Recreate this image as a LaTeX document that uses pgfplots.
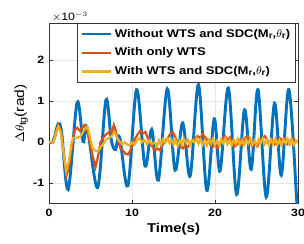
\documentclass[border=0pt]{standalone}
\usepackage{pgfplots}
\pgfplotsset{compat=1.18}
\usepackage{fontspec}
\setmainfont[FakeStretch=1.17]{Liberation Sans}
\definecolor{mblue}{rgb}{0,0.447,0.741}
\definecolor{morange}{rgb}{0.85,0.325,0.098}
\definecolor{myellow}{rgb}{0.929,0.694,0.125}
\begin{document}
\begin{tikzpicture}
\begin{axis}[
  name=ax,
  scale only axis,
  width=179pt, height=130pt,
  xmin=0, xmax=30, ymin=-1.5, ymax=2.9,
  xtick={0,10,20,30}, ytick={-1,0,1,2},
  tick align=inside, tick pos=both,
  major tick length=3pt,
  grid=major, grid style={gray!20, line width=0.5pt},
  axis line style={black!80, line width=0.6pt},
  tick style={black!80},
  /pgf/number format/assume math mode=true,
  ticklabel style={font=\bfseries\fontsize{7.6}{9}\selectfont},
  xlabel={\bfseries Time(s)},
  xlabel style={font=\bfseries\fontsize{9.2}{11}\selectfont, yshift=2pt},
  ylabel={$\Delta\theta_{\mathrm{tg}}$(rad)},
  ylabel style={font=\fontsize{9.5}{11}\selectfont, yshift=-3pt},
  legend style={at={(rel axis cs:0.992,1)}, anchor=north east,
    font=\bfseries\fontsize{8}{9}\selectfont, draw=black!80, line width=0.5pt,
    inner sep=2pt, row sep=2.2pt, cells={anchor=west}},
  legend image post style={line width=1.6pt},
  legend image code/.code={\draw[#1] (0cm,0cm) -- (0.74cm,0cm);},
  clip=true,
]
\coordinate (bl) at (rel axis cs:0,0);
\coordinate (tr) at (rel axis cs:1,1);
\addplot[mblue, line width=2.1pt, smooth, tension=0.55] coordinates {
(0,0) (0.4,0) (0.7,0.15) (1.1,0.45) (1.5,0.25) (2.3,-1.15) (3.38,0.97) (4.1,0.02) (4.6,0.35) (5.85,-1.1) (6.85,1.03) (7.5,0.05) (8.0,-0.18) (8.5,0.12) (9.5,-1.06) (10.55,1.28) (11.56,-0.58) (12.37,0.31) (13.17,-0.92) (14.25,1.3) (15.18,-0.68) (16.1,0.47) (17.0,-0.82) (18.0,1.4) (19.0,-1.17) (19.9,0.57) (20.6,-0.7) (21.6,1.32) (22.6,-1.27) (23.55,0.79) (24.36,-0.66) (25.17,1.28) (26.17,-1.33) (27.17,0.95) (27.98,-0.8) (28.9,1.28) (29.9,-1.6) (30,-1.7)
};
\addlegendentry{Without WTS and SDC(M$_\mathbf{r}$,$\theta_\mathbf{r}$)}
\addplot[morange, line width=1.6pt] coordinates {
(0,0) (0.5,0.0) (0.8,0.2) (1.1,0.42) (1.4,0.3) (1.8,-0.3) (2.1,-0.8) (2.4,-0.6) (2.8,0.0) (3.1,0.3) (3.4,0.35) (3.7,0.28) (4.0,0.35) (4.3,0.42) (4.6,0.3) (4.9,0.0) (5.2,-0.3) (5.6,-0.6) (5.9,-0.35) (6.2,0.0) (6.5,0.1) (6.8,0.18) (7.1,0.22) (7.4,0.28) (7.6,0.25) (7.8,0.42) (8.0,0.3) (8.3,0.05) (8.6,-0.15) (8.9,-0.2) (9.2,-0.28) (9.5,-0.3) (9.8,-0.2) (10.1,-0.05) (10.4,0.1) (10.7,0.2) (11.0,0.28) (11.3,0.22) (11.6,0.25) (11.9,0.1) (12.2,-0.05) (12.5,-0.12) (12.8,-0.2) (13.1,-0.15) (13.4,-0.2) (13.7,-0.05) (14.0,0.05) (14.3,0.1) (14.6,0.2) (14.9,0.25) (15.2,0.12) (15.5,0.0) (15.8,-0.1) (16.1,-0.15) (16.4,-0.08) (16.7,-0.12) (17.0,-0.05) (17.3,0.05) (17.6,0.1) (17.9,0.15) (18.2,0.1) (18.5,0.2) (18.8,0.12) (19.1,0.05) (19.4,-0.05) (19.7,-0.12) (20.0,-0.05) (20.3,-0.15) (20.6,-0.05) (20.9,0.1) (21.2,0.15) (21.5,0.05) (21.8,0.12) (22.1,0.0) (22.4,-0.1) (22.7,-0.05) (23.0,0.05) (23.3,-0.05) (23.6,0.1) (23.9,0.15) (24.2,0.05) (24.5,-0.1) (24.8,-0.05) (25.1,-0.1) (25.4,0.05) (25.7,0.1) (26.0,0.15) (26.3,0.05) (26.6,-0.05) (26.9,0.05) (27.2,-0.05) (27.5,0.0) (27.8,0.1) (28.1,0.05) (28.4,0.1) (28.7,-0.05) (29.0,0.0) (29.3,0.1) (29.6,0.05) (30,0.0)
};
\addlegendentry{With only WTS}
\addplot[myellow, line width=1.6pt] coordinates {
(0,0) (0.5,0.0) (0.8,0.2) (1.1,0.38) (1.4,0.25) (1.7,-0.2) (2.05,-0.7) (2.4,-0.45) (2.7,-0.05) (2.9,0.1) (3.2,0.1) (3.5,0.12) (3.8,0.15) (4.1,0.25) (4.4,0.35) (4.6,0.38) (4.9,0.15) (5.2,-0.12) (5.5,-0.2) (5.9,-0.22) (6.2,-0.12) (6.5,-0.05) (6.8,0.05) (7.1,0.1) (7.4,0.12) (7.7,0.2) (7.9,0.24) (8.2,0.1) (8.5,0.02) (8.8,-0.05) (9.1,0.0) (9.4,-0.05) (9.7,-0.08) (10.0,0.0) (10.3,-0.05) (10.6,0.05) (10.9,0.1) (11.2,0.0) (11.5,0.05) (11.8,-0.05) (12.1,0.05) (12.4,-0.05) (12.7,0.0) (13.0,-0.1) (13.25,0.05) (13.5,-0.05) (13.75,0.08) (14.0,0.0) (14.25,0.1) (14.5,-0.02) (14.75,0.06) (15.0,-0.06) (15.25,0.05) (15.5,-0.08) (15.75,0.04) (16.0,-0.05) (16.25,0.08) (16.5,-0.02) (16.75,0.06) (17.0,-0.07) (17.25,0.05) (17.5,0.0) (17.75,0.09) (18.0,-0.04) (18.25,0.07) (18.5,-0.06) (18.75,0.05) (19.0,-0.08) (19.25,0.06) (19.5,-0.03) (19.75,0.08) (20.0,-0.06) (20.25,0.04) (20.5,-0.08) (20.75,0.07) (21.0,-0.02) (21.25,0.09) (21.5,-0.05) (21.75,0.05) (22.0,-0.08) (22.25,0.06) (22.5,-0.04) (22.75,0.08) (23.0,-0.06) (23.25,0.05) (23.5,-0.07) (23.75,0.07) (24.0,-0.03) (24.25,0.08) (24.5,-0.06) (24.75,0.04) (25.0,-0.08) (25.25,0.07) (25.5,-0.02) (25.75,0.09) (26.0,-0.05) (26.25,0.05) (26.5,-0.07) (26.75,0.06) (27.0,-0.04) (27.25,0.08) (27.5,-0.06) (27.75,0.05) (28.0,-0.08) (28.25,0.07) (28.5,-0.03) (28.75,0.08) (29.0,-0.05) (29.25,0.06) (29.5,-0.07) (29.75,0.04) (30,-0.02)
};
\addlegendentry{With WTS and SDC(M$_\mathbf{r}$,$\theta_\mathbf{r}$)}
\end{axis}
\node[anchor=south west, font=\fontsize{7.6}{9}\selectfont, inner sep=1pt, xshift=1pt] at (tr -| bl) {$\times$10$^{-3}$};
\pgfresetboundingbox
\path[use as bounding box] ([shift={(-35.3pt,-28.8pt)}]bl) rectangle ([shift={(4.3pt,16.6pt)}]tr);
\end{tikzpicture}
\end{document}
